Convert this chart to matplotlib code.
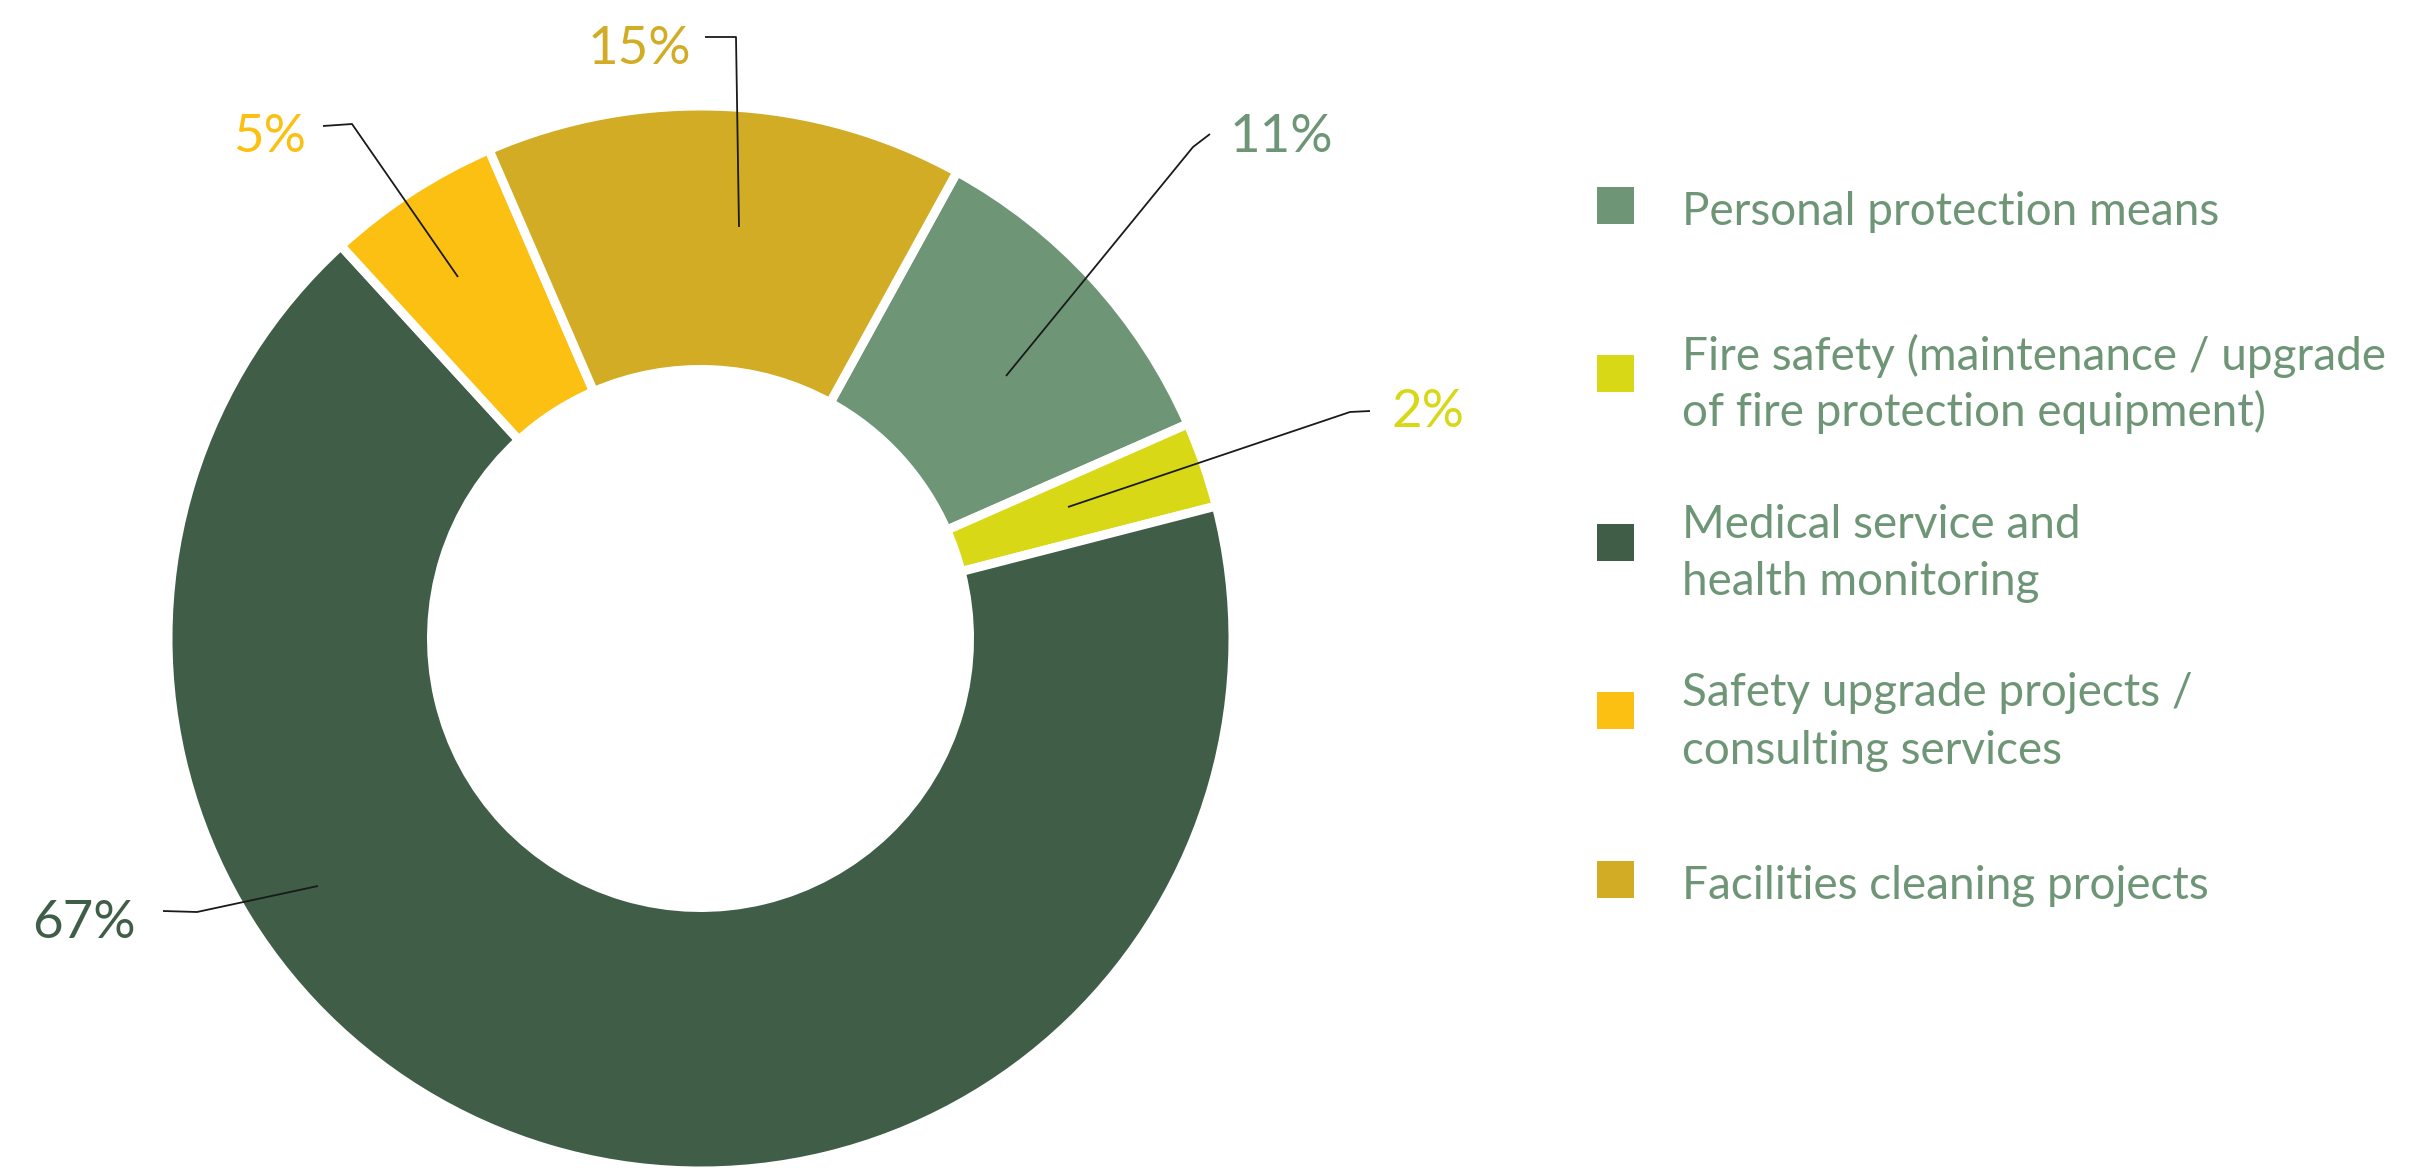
import matplotlib
matplotlib.use("Agg")
import matplotlib.pyplot as plt
from matplotlib.patches import Rectangle

# ---- data ----
categories = [
    "Personal protection means",
    "Fire safety (maintenance / upgrade\nof fire protection equipment)",
    "Medical service and\nhealth monitoring",
    "Safety upgrade projects /\nconsulting services",
    "Facilities cleaning projects",
]
shares = [10.4, 2.6, 67.2, 5.3, 14.5]
value_labels = ["11%", "2%", "67%", "5%", "15%"]
colors = ["#6E9676", "#D8D817", "#3F5D47", "#FCC012", "#D1AC24"]

# ---- layout ----
W, H = 2409, 1175
FONT = ["Lato", "DejaVu Sans"]
TEXT_COLOR = "#6E9676"

fig = plt.figure(figsize=(W / 100, H / 100), dpi=100)
ax = fig.add_axes([0, 0, 1, 1])

cx, cy = 700.5, H - 638.5
R_out, R_in = 528, 273.5
gap_pt = 6.5
gap_px = gap_pt * 100 / 72

ax.pie(shares, colors=colors, startangle=61.2, counterclock=False,
       radius=R_out + gap_px / 2, center=(cx, cy),
       wedgeprops=dict(width=R_out - R_in + gap_px, edgecolor="white",
                       linewidth=gap_pt))
ax.set_xlim(0, W)
ax.set_ylim(0, H)
ax.set_aspect("equal")
ax.axis("off")

# leader lines (pixel coords, y from top): anchor, elbow, tail, text pos, ha
leaders = [
    ((1006, 376), (1193, 147), (1210, 134), (1230, 152), "left"),
    ((1068, 507), (1350, 412), (1370, 411), (1391, 427), "left"),
    ((318, 886), (197, 912), (163, 911), (136, 938), "right"),
    ((458, 277), (352, 124), (323, 126), (306, 152), "right"),
    ((739, 227), (736, 37), (705, 37), (691, 64), "right"),
]
for (a, e, t, tp, ha), lab, col in zip(leaders, value_labels, colors):
    xs = [a[0], e[0], t[0]]
    ys = [H - a[1], H - e[1], H - t[1]]
    ax.plot(xs, ys, color="#1a1a1a", lw=1.3, solid_capstyle="butt")
    ax.text(tp[0], H - tp[1], lab, ha=ha, va="baseline", color=col,
            fontsize=38, family=FONT)

# legend
mx, msz = 1597, 37
text_x = 1682
for i, (cat, col) in enumerate(zip(categories, colors)):
    c = 205 + i * 168.5
    ax.add_patch(Rectangle((mx, H - (c + msz / 2)), msz, msz,
                           facecolor=col, edgecolor="none"))
    lines = cat.split("\n")
    n = len(lines)
    base = c + 20 - (n - 1) * 24
    for k, line in enumerate(lines):
        ax.text(text_x, H - (base + k * 57), line, ha="left", va="baseline",
                color=TEXT_COLOR, fontsize=33, family=FONT)

fig.savefig("out.png", dpi=100, facecolor="white")
